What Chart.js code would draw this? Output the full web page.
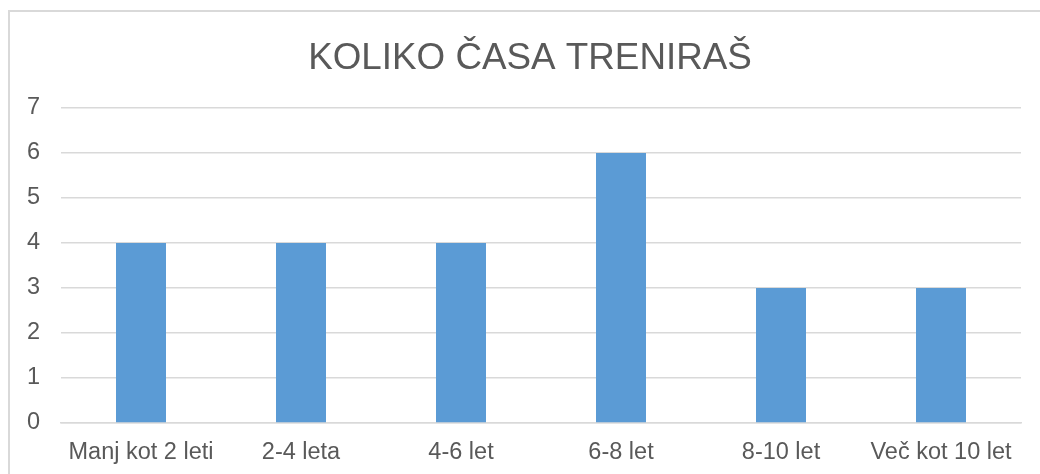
<!DOCTYPE html>
<html>
<head>
<meta charset="utf-8">
<script src="https://cdn.jsdelivr.net/npm/chart.js@4/dist/chart.umd.min.js"></script>
<style>
html,body{margin:0;padding:0;background:#fff;}
#wrap{width:1040px;height:474px;position:relative;}
</style>
</head>
<body>
<div id="wrap"><canvas id="c" width="1040" height="474"></canvas></div>
<script>
const chartTitle = 'KOLIKO ČASA TRENIRAŠ';
const categories = ['Manj kot 2 leti', '2-4 leta', '4-6 let', '6-8 let', '8-10 let', 'Več kot 10 let'];
const values = [4, 4, 4, 6, 3, 3];
const yTicks = [0, 1, 2, 3, 4, 5, 6, 7];

const textColor = '#595959';
const fontFamily = '"Liberation Sans", Arial, sans-serif';

const framePlugin = {
  id: 'frame',
  beforeDraw(chart) {
    const ctx = chart.ctx;
    ctx.save();
    ctx.fillStyle = '#ffffff';
    ctx.fillRect(0, 0, chart.width, chart.height);
    ctx.strokeStyle = '#D9D9D9';
    ctx.lineWidth = 2;
    ctx.beginPath();
    ctx.moveTo(9, chart.height + 5);
    ctx.lineTo(9, 11);
    ctx.lineTo(chart.width + 5, 11);
    ctx.stroke();
    ctx.restore();
  },
  afterDraw(chart) {
    const ctx = chart.ctx;
    ctx.save();
    ctx.fillStyle = textColor;
    ctx.font = '36.8px ' + fontFamily;
    ctx.textAlign = 'center';
    ctx.textBaseline = 'middle';
    ctx.fillText(chartTitle, 530, 59);
    ctx.restore();
  }
};

new Chart(document.getElementById('c'), {
  type: 'bar',
  data: {
    labels: categories,
    datasets: [{
      data: values,
      backgroundColor: '#5B9BD5',
      borderWidth: 0,
      categoryPercentage: 1,
      barPercentage: 0.3125
    }]
  },
  options: {
    responsive: false,
    animation: false,
    devicePixelRatio: 1,
    layout: { padding: { top: 108, left: 0, right: 19, bottom: 0 } },
    plugins: {
      legend: { display: false },
      title: { display: false },
      tooltip: { enabled: false }
    },
    scales: {
      x: {
        grid: { display: false, drawTicks: false },
        border: { display: true, color: '#D9D9D9', width: 1.5 },
        ticks: {
          color: textColor,
          font: { family: fontFamily, size: 23.5 },
          padding: 15,
          maxRotation: 0,
          autoSkip: false
        },
        afterFit(scale) { scale.height = 51; }
      },
      y: {
        min: 0,
        max: 7,
        afterBuildTicks(scale) { scale.ticks = yTicks.map(v => ({ value: v })); },
        grid: { color: '#D9D9D9', lineWidth: 1.5, drawTicks: false },
        border: { display: false },
        ticks: {
          color: textColor,
          font: { family: fontFamily, size: 23.5, lineHeight: 1.0 },
          padding: 21
        },
        afterFit(scale) { scale.width = 61; }
      }
    }
  },
  plugins: [framePlugin]
});
</script>
</body>
</html>
